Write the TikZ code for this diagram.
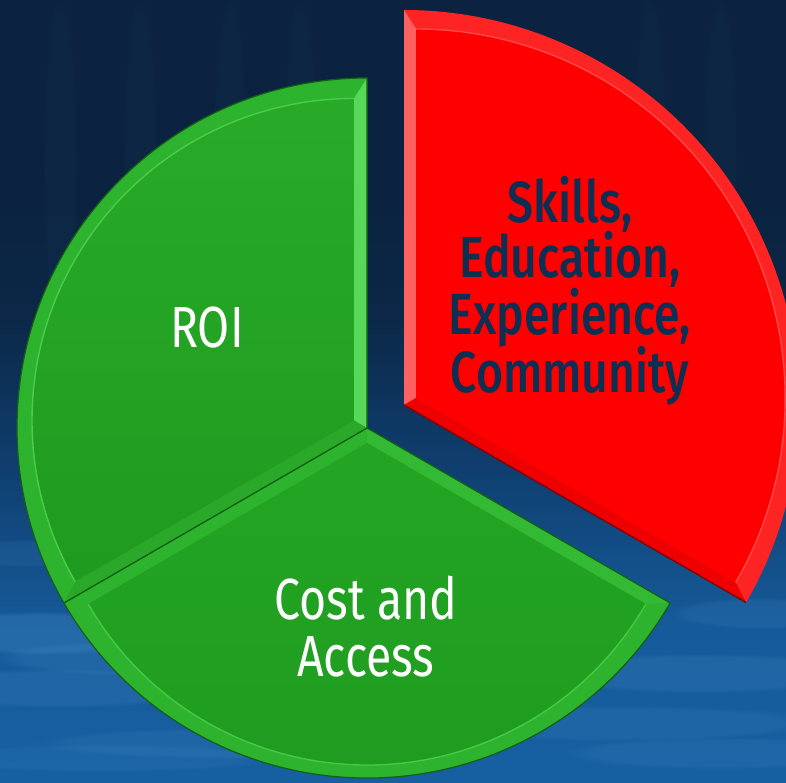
\documentclass[tikz,border=0pt]{standalone}
\usepackage{fontspec}
\setmainfont{Fira Sans}[FakeStretch=0.8]
\newfontfamily\medfont{Fira Sans Medium}[FakeStretch=0.8]
\usetikzlibrary{fadings}

% background
\definecolor{bgtop}{HTML}{0B2340}
\definecolor{bgmid}{HTML}{0F3F70}
\definecolor{bgblue}{HTML}{1762A5}
\definecolor{bglow}{HTML}{155A9A}
\definecolor{bgstreak}{HTML}{5A9ED8}
% greens
\definecolor{gface}{HTML}{23A523}
\definecolor{gfacelow}{HTML}{1F9B1F}
\definecolor{grim}{HTML}{2DB32D}
\definecolor{glight}{HTML}{58D858}
\definecolor{gmid}{HTML}{29A829}
\definecolor{gdark}{HTML}{135F13}
% reds
\definecolor{rface}{HTML}{FF0000}
\definecolor{rrim}{HTML}{FF2424}
\definecolor{rlight}{HTML}{FF6060}
\definecolor{rlow}{HTML}{EE0000}
\definecolor{rdark}{HTML}{8A0000}
% text
\definecolor{navytext}{HTML}{0D2F52}

\pgfdeclareverticalshading{bgshade}{100bp}{%
  color(0bp)=(bglow); color(20bp)=(bgblue); color(35bp)=(bgblue!80!bgmid);
  color(45bp)=(bgmid); color(55bp)=(bgtop!85!bgmid); color(62bp)=(bgtop);
  color(100bp)=(bgtop)}

% closed sector: centre, start angle, end angle, radius
\newcommand{\sectorpath}[4]{(#1) -- ++(#2:#4) arc[start angle=#2, end angle=#3, radius=#4] -- cycle}
% bevel band along a straight edge: outer centre, inner centre, angle, outer r, inner r
\newcommand{\edgeband}[5]{(#1) -- ++(#3:#4) -- ([shift={(#3:#5)}]#2) -- (#2) -- cycle}

\tikzset{
  label white/.style={text=white, font=\fontsize{58}{58}\selectfont, anchor=base, inner sep=0pt},
  label navy/.style={text=navytext, font=\medfont\fontsize{58}{58}\selectfont, anchor=base, inner sep=0pt},
  streak/.style={fill=bgstreak, fill opacity=#1, path fading=circle with fuzzy edge 20 percent},
  streak/.default=0.08
}

\begin{document}
\begin{tikzpicture}[x=1pt,y=1pt]
\useasboundingbox (0,0) rectangle (786,783);
\clip (0,0) rectangle (786,783);

% sky-to-water backdrop
\shade[shading=bgshade] (0,0) rectangle (786,783);
\foreach \cx/\cy/\w/\h/\o in {40/150/120/22/0.22, 150/125/160/18/0.15, 60/95/150/20/0.15,
  700/110/170/20/0.15, 620/60/200/18/0.12, 250/40/220/16/0.12, 720/30/160/16/0.12,
  100/25/180/14/0.10, 760/170/90/16/0.12, 30/230/80/14/0.10}
  \fill[streak=\o] (\cx,\cy) ellipse[x radius=\w, y radius=\h];
\foreach \cx in {60,140,230,300,650,720}
  \fill[streak=0.03] (\cx,620) ellipse[x radius=18, y radius=180];

% centres of the slices
\coordinate (G) at (367,355);
\coordinate (Gi1) at ([shift={(150:15)}]G);
\coordinate (Gi2) at ([shift={(270:15)}]G);
\coordinate (Rv) at (404,378);
\coordinate (Ri) at ([shift={(30:14)}]Rv);

% slice: Cost and Access
\fill[grim] \sectorpath{G}{210}{330}{350};
\fill[grim!85!glight] \edgeband{G}{Gi2}{330}{350}{322};
\fill[grim] \edgeband{G}{Gi2}{210}{350}{322};
\shade[top color=gface, bottom color=gfacelow] \sectorpath{Gi2}{210}{330}{322};
\draw[glight!60!grim, line width=1.4] ([shift={(210:322)}]Gi2) arc[start angle=210, end angle=330, radius=322];
\draw[gdark, line width=1.2] \sectorpath{G}{210}{330}{350};

% slice: ROI
\fill[grim] \sectorpath{G}{90}{210}{350};
\fill[glight] \edgeband{G}{Gi1}{90}{350}{322};
\fill[gmid] \edgeband{G}{Gi1}{210}{350}{322};
\shade[top color=gface!90!glight, bottom color=gfacelow] \sectorpath{Gi1}{90}{210}{322};
\draw[glight!70!grim, line width=1.4] ([shift={(90:322)}]Gi1) arc[start angle=90, end angle=210, radius=322];
\draw[gdark, line width=1.2] \sectorpath{G}{90}{210}{350};

% slice: Skills, Education, Experience, Community
\fill[rrim] \sectorpath{Rv}{-30}{90}{395};
\fill[rlight] \edgeband{Rv}{Ri}{90}{395}{369};
\fill[rlow] \edgeband{Rv}{Ri}{-30}{395}{369};
\fill[rface] \sectorpath{Ri}{-30}{90}{369};
\draw[rlight!60!rrim, line width=1.4] ([shift={(-30:369)}]Ri) arc[start angle=-30, end angle=90, radius=369];
\draw[rdark, line width=1.4] (Rv) -- ++(-30:395);

% labels
\node[label white] (roi) at (207,435) {ROI};
\node[label navy] (s1) at (570,560) {Skills,};
\node[label navy] (s2) at (570,505) {Education,};
\node[label navy] (s3) at (570,448) {Experience,};
\node[label navy] (s4) at (570,390) {Community};
\node[label white] (c1) at (366,163) {Cost and};
\node[label white] (c2) at (366,106) {Access};
\end{tikzpicture}
\end{document}
